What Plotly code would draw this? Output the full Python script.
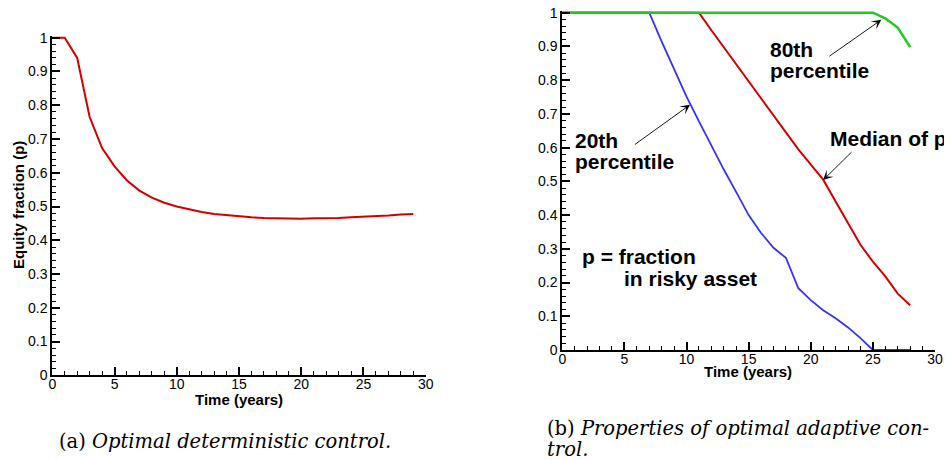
import plotly.graph_objects as go

# ---------------- data ----------------
years_a = list(range(0, 30))
equity_fraction = [1, 1, 0.94, 0.765, 0.673, 0.619, 0.577, 0.547, 0.526, 0.511,
                   0.5, 0.491, 0.484, 0.478, 0.474, 0.471, 0.468, 0.466, 0.465, 0.464,
                   0.464, 0.465, 0.465, 0.466, 0.468, 0.469, 0.471, 0.473, 0.476, 0.478]

years_b = list(range(0, 29))
p80 = [1] * 26 + [0.983, 0.956, 0.898]
p20 = [1] * 8 + [0.914, 0.832, 0.751, 0.678, 0.605, 0.535, 0.468, 0.40, 0.347, 0.303,
                 0.273, 0.183, 0.148, 0.118, 0.094, 0.067, 0.035, 0, 0, 0, 0]
median_p = [1] * 12 + [0.948, 0.897, 0.846, 0.796, 0.745, 0.696, 0.645, 0.595, 0.549,
                       0.505, 0.44, 0.376, 0.312, 0.262, 0.218, 0.167, 0.133]

x_ticks = [0, 5, 10, 15, 20, 25, 30]

# page body has an 8px margin: figure is sized to fit the 952x460 window
OFF = 8
W, H = 952 - OFF, 460 - OFF
RED = "#d40000"
BLUE = "#3434f4"
GREEN = "#1ecb1e"
SANS = "Liberation Sans, Arial, sans-serif"
SERIF = "DejaVu Serif, serif"

YTOP = 1.005


def px(x):
    return (x - OFF) / W


def py(y):
    return 1 - (y - OFF) / H


def xdom(px0, px1):
    return [px(px0), px(px1)]


def ydom(py_zero, py_one):
    per = (py_zero - py_one)
    top = py_one - (YTOP - 1) * per
    return [py(py_zero), py(top)]


def xaxis_cfg(dom, anchor):
    return dict(domain=dom, range=[0, 30], tickvals=x_ticks, ticks="inside", ticklen=8,
                tickwidth=1.5, tickcolor="black", showline=True, linecolor="black",
                linewidth=2, showgrid=False, zeroline=False, ticklabelstandoff=-5,
                automargin=False, anchor=anchor, mirror=False, ticklabeloverflow="allow",
                tickfont=dict(family=SANS, size=14, color="black"),
                minor=dict(dtick=1, tick0=0, ticks="inside", ticklen=4, tickwidth=1,
                           tickcolor="black", showgrid=False))


def yaxis_cfg(dom, anchor):
    return dict(domain=dom, range=[0, YTOP], tick0=0, dtick=0.1, ticks="inside", ticklen=8,
                tickwidth=1.5, tickcolor="black", showline=True, linecolor="black",
                linewidth=2, showgrid=False, zeroline=False, anchor=anchor,
                ticklabelstandoff=0, automargin=False, mirror=False,
                ticklabeloverflow="allow",
                tickfont=dict(family=SANS, size=14, color="black"),
                minor=dict(dtick=0.02, tick0=0, ticks="inside", ticklen=4, tickwidth=1,
                           tickcolor="black", showgrid=False))


fig = go.Figure()
fig.add_trace(go.Scatter(x=years_a, y=equity_fraction, mode="lines",
                         line=dict(color=RED, width=2), xaxis="x", yaxis="y",
                         showlegend=False))
fig.add_trace(go.Scatter(x=years_b, y=p20, mode="lines",
                         line=dict(color=BLUE, width=1.8), xaxis="x2", yaxis="y2",
                         showlegend=False))
fig.add_trace(go.Scatter(x=years_b, y=median_p, mode="lines",
                         line=dict(color=RED, width=2), xaxis="x2", yaxis="y2",
                         showlegend=False))
fig.add_trace(go.Scatter(x=years_b, y=p80, mode="lines",
                         line=dict(color=GREEN, width=2.5), xaxis="x2", yaxis="y2",
                         showlegend=False))

ann = []
# axis titles
ann.append(dict(text="<b>Time (years)</b>", x=px(239), y=py(399), xref="paper", yref="paper",
                xanchor="center", yanchor="middle", showarrow=False,
                font=dict(family=SANS, size=15, color="black")))
ann.append(dict(text="<b>Equity fraction (p)</b>", x=px(18), y=py(205), xref="paper",
                yref="paper", xanchor="center", yanchor="middle", textangle=-90,
                showarrow=False, font=dict(family=SANS, size=15, color="black")))
ann.append(dict(text="<b>Time (years)</b>", x=px(748), y=py(371), xref="paper", yref="paper",
                xanchor="center", yanchor="middle", showarrow=False,
                font=dict(family=SANS, size=15, color="black")))

# labels in the right panel
FS = 21
labels = [("80th", 768, 56), ("percentile", 768, 77),
          ("20th", 573, 147), ("percentile", 573, 168),
          ("Median of p", 828, 145),
          ("p = fraction", 580, 263), ("in risky asset", 622, 285)]
for t, lx, base in labels:
    ann.append(dict(text="<b>%s</b>" % t, x=px(lx), y=py(base - 0.3 * FS), xref="paper",
                    yref="paper", xanchor="left", yanchor="middle", showarrow=False,
                    font=dict(family=SANS, size=FS, color="black")))

# arrows (tail -> tip) in data coordinates of right panel
arrows = [((21.38, 0.868), (25.68, 0.979)),
          ((5.72, 0.606), (10.28, 0.727)),
          ((23.40, 0.591), (21.0, 0.504))]
for (tx, ty), (hx, hy) in arrows:
    ann.append(dict(text="", x=hx, y=hy, xref="x2", yref="y2", ax=tx, ay=ty,
                    axref="x2", ayref="y2", showarrow=True, arrowhead=3, arrowsize=1.8,
                    arrowwidth=0.9, arrowcolor="black", standoff=0, startstandoff=0))

# captions
CFS = 19.5
ann.append(dict(text="(a) <i>Optimal deterministic control.</i>", x=px(225), y=py(441),
                xref="paper", yref="paper", xanchor="center", yanchor="middle",
                showarrow=False, font=dict(family=SERIF, size=CFS, color="black")))
ann.append(dict(text="(b) <i>Properties of optimal adaptive con-</i>", x=px(545), y=py(428),
                xref="paper", yref="paper", xanchor="left", yanchor="middle",
                showarrow=False, font=dict(family=SERIF, size=CFS, color="black")))
ann.append(dict(text="<i>trol.</i>", x=px(545), y=py(449),
                xref="paper", yref="paper", xanchor="left", yanchor="middle",
                showarrow=False, font=dict(family=SERIF, size=CFS, color="black")))

fig.update_layout(
    template="none",
    width=W, height=H, margin=dict(l=0, r=0, t=0, b=0, pad=0, autoexpand=False),
    paper_bgcolor="white", plot_bgcolor="white",
    xaxis=xaxis_cfg(xdom(52.3, 425.7), "y"),
    yaxis=yaxis_cfg(ydom(375.3, 37.7), "x"),
    xaxis2=xaxis_cfg(xdom(562.3, 935.0), "y2"),
    yaxis2=yaxis_cfg(ydom(350.0, 12.7), "x2"),
    annotations=ann,
)

fig.write_html("out.html")
